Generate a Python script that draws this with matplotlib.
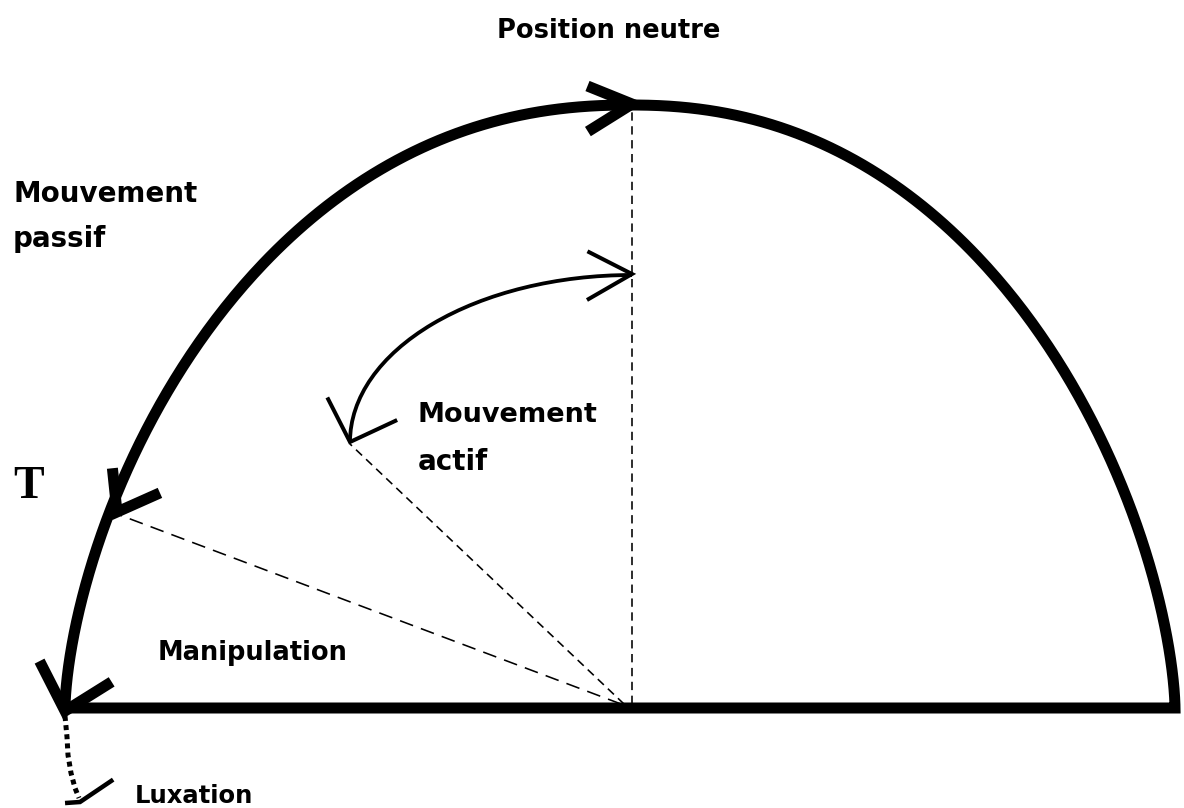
import numpy as np
import matplotlib
matplotlib.use("Agg")
import matplotlib.pyplot as plt
from matplotlib.patches import Arc

plt.rcParams["lines.scale_dashes"] = False

W, H = 1184, 808
PX = 0.72  # pixel -> points at dpi 100

# arc of passive movement (pixel coordinates of the picture)
base_y = 708
left_x, apex_x, right_x = 65, 630, 1175
apex_y = 105
exp_x, exp_y = 2.2, 1.6

# arc of active movement: quarter of an ellipse
act_cx, act_cy = 632, 442
act_a, act_b = 282, 167

# arrowheads: tip, angle of both arms (deg, y down), arm length, width px
heads_tip = [(632, 104), (117, 512), (65, 711), (632, 274), (350, 442), (80, 802)]
heads_ang = [(202, 148), (264, 336), (243, 328), (207, 150), (243, 335), (176, 326)]
heads_len = [(48, 52), (44, 47), (56, 55), (50, 52), (50, 52), (15, 40)]
heads_lw = [11, 11, 11, 4, 4, 4.5]

# luxation, dotted path below the base
lux_x = [65, 67, 68, 71, 75, 79]
lux_y = [716, 737, 755, 773, 788, 798]

# dashed lines: start, end, dash pattern
rays_start = [(632, 704), (621, 704), (624, 704)]
rays_end = [(632, 108), (117, 514), (350, 444)]
rays_dash = [(6, 4), (10, 6), (6, 4)]

labels = ["Position neutre", "Mouvement", "passif", "Mouvement", "actif",
          "Manipulation", "Luxation"]
labels_x = [497, 13, 13, 418, 418, 158, 135]
labels_y = [38, 202, 247, 422, 470, 660, 803]
labels_size = [18.5, 20, 20, 19.5, 20, 18.5, 17.5]


def half_arc(x_end, n=200):
    t = np.linspace(0, np.pi / 2, n)
    u = np.cos(t) ** (2 / exp_x)
    v = np.sin(t) ** (2 / exp_y)
    x = apex_x + (x_end - apex_x) * u
    y = base_y - (base_y - apex_y) * v
    return x, y


fig = plt.figure(figsize=(W / 100, H / 100), dpi=100)
ax = fig.add_axes([0, 0, 1, 1])
ax.set_xlim(0, W)
ax.set_ylim(H, 0)
ax.axis("off")

# outer shape: left half, right half and base line, one closed path
lx, ly = half_arc(left_x)
rx, ry = half_arc(right_x)
shape_x = np.concatenate([lx, rx[::-1], [left_x]])
shape_y = np.concatenate([ly, ry[::-1], [base_y]])
ax.plot(shape_x, shape_y, color="black", lw=11 * PX,
        solid_joinstyle="miter", solid_capstyle="butt")

# dashed lines
for (sx, sy), (ex, ey), dash in zip(rays_start, rays_end, rays_dash):
    ax.plot([sx, ex], [sy, ey], color="black", lw=1.6 * PX, dashes=dash)

# active movement arc
ax.add_patch(Arc((act_cx, act_cy), 2 * act_a, 2 * act_b, theta1=180,
                 theta2=270, color="black", lw=3.8 * PX))

# arrowheads
for (tx, ty), (a1, a2), (l1, l2), w in zip(heads_tip, heads_ang, heads_len, heads_lw):
    x1 = tx + l1 * np.cos(np.radians(a1))
    y1 = ty + l1 * np.sin(np.radians(a1))
    x2 = tx + l2 * np.cos(np.radians(a2))
    y2 = ty + l2 * np.sin(np.radians(a2))
    ax.plot([x1, tx, x2], [y1, ty, y2], color="black", lw=w * PX,
            solid_joinstyle="miter", solid_capstyle="butt")

# dotted luxation path
ax.plot(lux_x, lux_y, color="black", lw=5 * PX, dashes=(3.6, 3.0),
        dash_capstyle="butt")

for text, x, y, s in zip(labels, labels_x, labels_y, labels_size):
    ax.text(x, y, text, fontsize=s, fontweight="bold", family="DejaVu Sans",
            ha="left", va="baseline")

ax.text(13, 498, "T", fontsize=33, fontweight="bold", family="Liberation Serif",
        ha="left", va="baseline")

fig.savefig("out.png", dpi=100)
